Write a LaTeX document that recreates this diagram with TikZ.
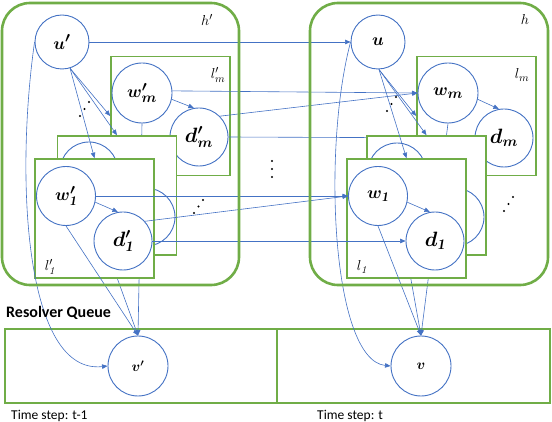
\documentclass[tikz,border=0pt]{standalone}
\usepackage{fontspec}
\usepackage{amsmath,bm}
\usetikzlibrary{arrows.meta}
\newfontfamily\calfont{Carlito}
\definecolor{gbox}{HTML}{70AD47}
\definecolor{bline}{HTML}{4472C4}
\newcommand{\nlab}[2]{{\fontsize{#1}{#1}\selectfont$\bm{#2}$}}
\tikzset{
  hbox/.style={draw=gbox, line width=2.6pt, rounded corners=28pt, inner sep=0pt},
  lbox/.style={draw=gbox, line width=1.6pt, fill=white, minimum width=119pt, minimum height=119pt, inner sep=0pt},
  qbox/.style={draw=gbox, line width=2.6pt, inner sep=0pt, minimum width=272pt, minimum height=74pt},
  circ/.style={circle, draw=bline, line width=0.9pt, fill=white, inner sep=0pt},
  conn/.style={draw=bline, line width=0.6pt},
  arr/.style={conn, -{Triangle[length=5.5pt,width=4.5pt]}},
  dotm/.style={fill=black, circle, inner sep=0pt, minimum size=2.2pt},
  boxlab/.style={font=\fontsize{15}{15}\selectfont},
  steptext/.style={anchor=base west, inner sep=0pt, font=\calfont\fontsize{13.5}{14}\selectfont},
}
\begin{document}
\begin{tikzpicture}[x=1pt,y=-1pt]
\useasboundingbox (0,0) rectangle (552,422);
% queue
\node[qbox] (qL) at (141,366) {};
\node[qbox, minimum width=273pt] (qR) at (413.5,366) {};
\node[circ, minimum size=60pt] (vL) at (138,366) {\nlab{14}{v'}};
\node[circ, minimum size=60pt] (vR) at (421,366) {\nlab{14}{v}};
% back layer (l_m)
\node[lbox] (lmL) at (170.5,116) {};
\node[lbox] (lmR) at (476.5,116) {};
\node[circ, minimum size=60pt] (wmL) at (142,93) {\nlab{19}{w'_m}};
\node[circ, minimum size=58pt] (dmL) at (199,137) {\nlab{21}{d'_m}};
\node[circ, minimum size=60pt] (wmR) at (448,93) {\nlab{19}{w_m}};
\node[circ, minimum size=58pt] (dmR) at (504,138) {\nlab{21}{d_m}};
\draw[arr] (wmL.-12) -- (dmL.100);
\draw[arr] (wmR.-12) -- (dmR.100);
\node[circ, minimum size=54pt] (uL) at (62,42) {\nlab{19}{u'}};
\node[circ, minimum size=54pt] (uR) at (378,42) {\nlab{19}{u}};
\draw[arr] (uL.east) -- (uR.west);
\draw[arr] (wmL.4) -- (wmR.west);
\draw[arr] (dmL.45) -- (wmR.west);
\draw[arr] (dmL.east) -- (dmR.west);
\draw[arr] (uL.-73) -- (lmL.west);
\draw[arr] (uR.-88) -- (lmR.west);
\draw[arr] (wmL.south) -- (vL.north);
\draw[arr] (wmR.south) -- (vR.north);
% middle layer
\node[lbox] (midL) at (117,195.5) {};
\node[lbox] (midR) at (426.5,195.5) {};
\node[circ, minimum size=58pt] (wmidL) at (89,171) {};
\node[circ, minimum size=58pt] (dmidL) at (146,217) {};
\node[circ, minimum size=58pt] (wmidR) at (397,172) {};
\node[circ, minimum size=58pt] (dmidR) at (455,217) {};
\draw[arr] (wmidL.south) -- (vL.north);
\draw[arr] (wmidR.south) -- (vR.north);
\draw[arr] (uL.-73) -- (midL.north);
\draw[arr] (uR.-88) -- (midR.north);
% front layer (l_1)
\node[lbox] (l1L) at (94.5,218.5) {};
\node[lbox] (l1R) at (406.5,218.5) {};
\node[circ, minimum size=59pt] (w1L) at (66,196) {\nlab{19}{w'_{\mathit{1}}}};
\node[circ, minimum size=58pt] (d1L) at (123,241) {\nlab{21}{d'_{\mathit{1}}}};
\node[circ, minimum size=59pt] (w1R) at (378,196) {\nlab{19}{w_{\mathit{1}}}};
\node[circ, minimum size=58pt] (d1R) at (435,241) {\nlab{21}{d_{\mathit{1}}}};
\draw[arr] (w1L.-12) -- (d1L.100);
\draw[arr] (w1R.-12) -- (d1R.100);
\draw[arr] (uL.-73) -- (l1L.north);
\draw[arr] (uR.-88) -- (l1R.north);
\draw[arr] (w1L.east) -- (w1R.west);
\draw[arr] (d1L.42) -- (w1R.west);
\draw[arr] (d1L.east) -- (d1R.west);
\draw[arr] (w1L.south) -- (vL.north);
\draw[arr] (w1R.south) -- (vR.north);
% curves
\draw[arr] (uL.west) .. controls (15,180) and (25,375) .. (vL.west);
\draw[arr] (uR.west) .. controls (322,150) and (332,360) .. (vR.west);
% outer h boxes
\node[hbox, minimum width=237pt, minimum height=282pt] (hL) at (120.5,144) {};
\node[hbox, minimum width=238pt, minimum height=282pt] (hR) at (429,144) {};
% box labels
\node[boxlab] (hLl) at (207,20) {$h'$};
\node[boxlab] (hRl) at (525,20) {$h$};
\node[boxlab] (lmLl) at (218,75) {$l'_m$};
\node[boxlab] (lmRl) at (522,75) {$l_m$};
\node[boxlab] (l1Ll) at (50,267) {$l'_{\mathit{1}}$};
\node[boxlab] (l1Rl) at (362,267) {$l_{\mathit{1}}$};
% dots
\foreach \p [count=\i] in {(80,116),(84.5,109),(89,102),(387,111),(391.5,104),(396,97),(272,161),(272,169),(272,177),(194,213),(198.5,206.5),(203,200),(504,211),(508.5,204),(513,197)}
  \node[dotm] (dot\i) at \p {};
% texts
\node[anchor=base west, inner sep=0pt, font=\calfont\bfseries\fontsize{16}{16}\selectfont] (rq) at (6,318) {Resolver Queue};
\node[steptext] (tsl) at (11,419) {Time step: t-1};
\node[steptext] (tsr) at (317,419) {Time step: t};
\end{tikzpicture}
\end{document}
